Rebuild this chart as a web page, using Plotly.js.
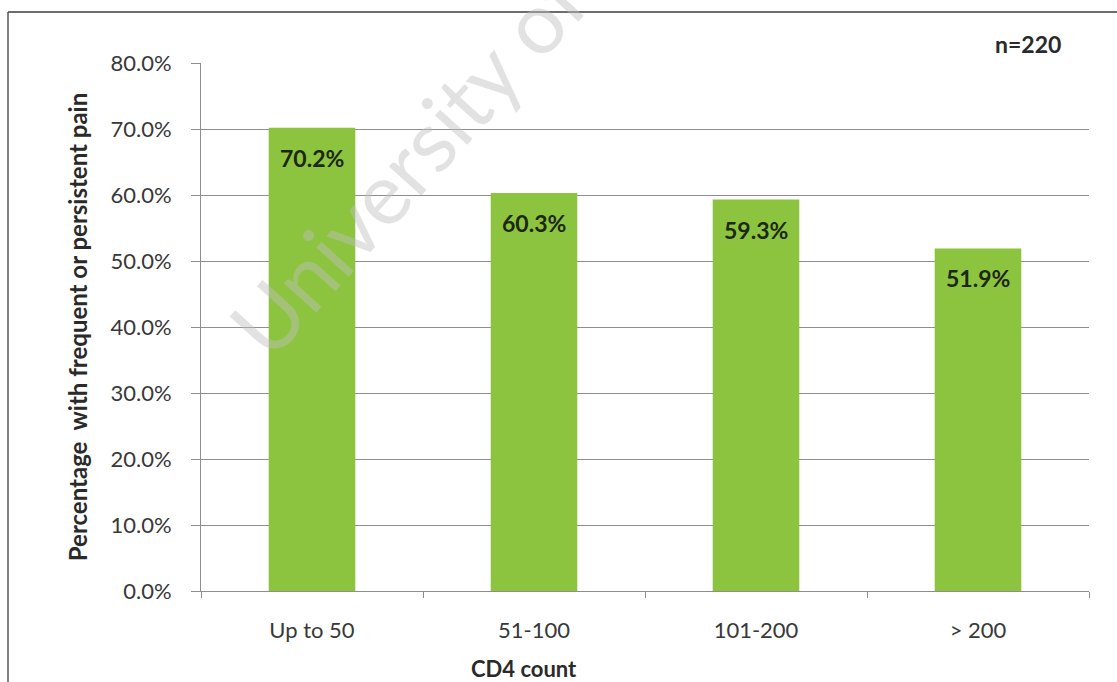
<!DOCTYPE html>
<html>
<head>
<meta charset="utf-8">
<script src="https://cdn.plot.ly/plotly-3.0.1.min.js"></script>
<style>
  html, body { margin: 0; padding: 0; background: #ffffff; }
  #chart { width: 1117px; height: 682px; }
</style>
</head>
<body>
<div id="chart"></div>
<script>
// CD4 count groups and share of patients with frequent or persistent pain
const categories = ["Up to 50", "51-100", "101-200", "> 200"];
const painShare = [0.702, 0.603, 0.593, 0.519];
const sampleNote = "n=220";
const yTitle = "Percentage  with frequent or persistent pain";
const xTitle = "CD4 count";
const watermark = "University of";

const W = 1117, H = 682;
const M = { l: 201, r: 28, t: 63, b: 91 };
const plotW = W - M.l - M.r, plotH = H - M.t - M.b;
// pixel -> paper helpers for free-standing text and frame lines
const px = x => (x - M.l) / plotW;
const py = y => (H - M.b - y) / plotH;

const FONT = "Lato, 'Open Sans', sans-serif";
const GRID = "#8e8e8e";
const TXT = "#383838";

const bar = {
  type: "bar",
  x: categories,
  y: painShare,
  marker: { color: "#8dc43f", line: { width: 0 } },
  width: 0.39,
  hoverinfo: "x+y"
};

// value labels placed just inside each bar's top
const valueLabels = categories.map((c, i) => ({
  x: c, y: painShare[i], xref: "x", yref: "y",
  text: (painShare[i] * 100).toFixed(1) + "%",
  showarrow: false, yanchor: "middle", yshift: -30,
  font: { family: FONT, size: 23, color: "#1c2812", weight: 700 }
}));

const layout = {
  width: W, height: H,
  margin: M,
  paper_bgcolor: "#ffffff",
  plot_bgcolor: "#ffffff",
  showlegend: false,
  font: { family: FONT, size: 22, color: TXT },
  xaxis: {
    type: "category",
    showline: true, linecolor: GRID, linewidth: 1,
    ticks: "outside", tickson: "boundaries", ticklen: 6, tickcolor: GRID,
    ticklabelstandoff: 20,
    showgrid: false, zeroline: false,
    tickfont: { family: FONT, size: 22, color: TXT }
  },
  yaxis: {
    range: [0, 0.8], dtick: 0.1, tickformat: ".1%",
    showline: true, linecolor: GRID, linewidth: 1,
    ticks: "outside", ticklen: 9, tickcolor: GRID,
    ticklabelstandoff: 15,
    showgrid: true, gridcolor: GRID, gridwidth: 1, zeroline: false,
    tickfont: { family: FONT, size: 22, color: TXT },
    title: { text: yTitle, standoff: 16, font: { family: FONT, size: 24, color: "#2a2a2a", weight: 700 } }
  },
  annotations: [
    ...valueLabels,
    {
      text: sampleNote, xref: "paper", yref: "paper", x: px(1028), y: py(44),
      showarrow: false, xanchor: "center", yanchor: "middle",
      font: { family: FONT, size: 23, color: "#2a2a2a", weight: 700 }
    },
    {
      text: xTitle, xref: "paper", yref: "paper", x: px(524), y: py(668),
      showarrow: false, xanchor: "center", yanchor: "middle",
      font: { family: FONT, size: 22, color: "#2a2a2a", weight: 700 }
    },
    {
      text: watermark, xref: "paper", yref: "paper", x: px(406), y: py(162),
      showarrow: false, xanchor: "center", yanchor: "middle", textangle: -48,
      font: { family: FONT, size: 86, color: "rgba(190,190,190,0.45)" }
    }
  ],
  shapes: [
    // outer frame: top and left edges
    { type: "line", xref: "paper", yref: "paper", x0: px(8), x1: px(1117), y0: py(12), y1: py(12),
      line: { color: "#3c3c3c", width: 1.5 } },
    { type: "line", xref: "paper", yref: "paper", x0: px(8), x1: px(8), y0: py(12), y1: py(682),
      line: { color: "#555555", width: 1.5 } }
  ]
};

Plotly.newPlot("chart", [bar], layout, { displayModeBar: false, staticPlot: true });
</script>
</body>
</html>
